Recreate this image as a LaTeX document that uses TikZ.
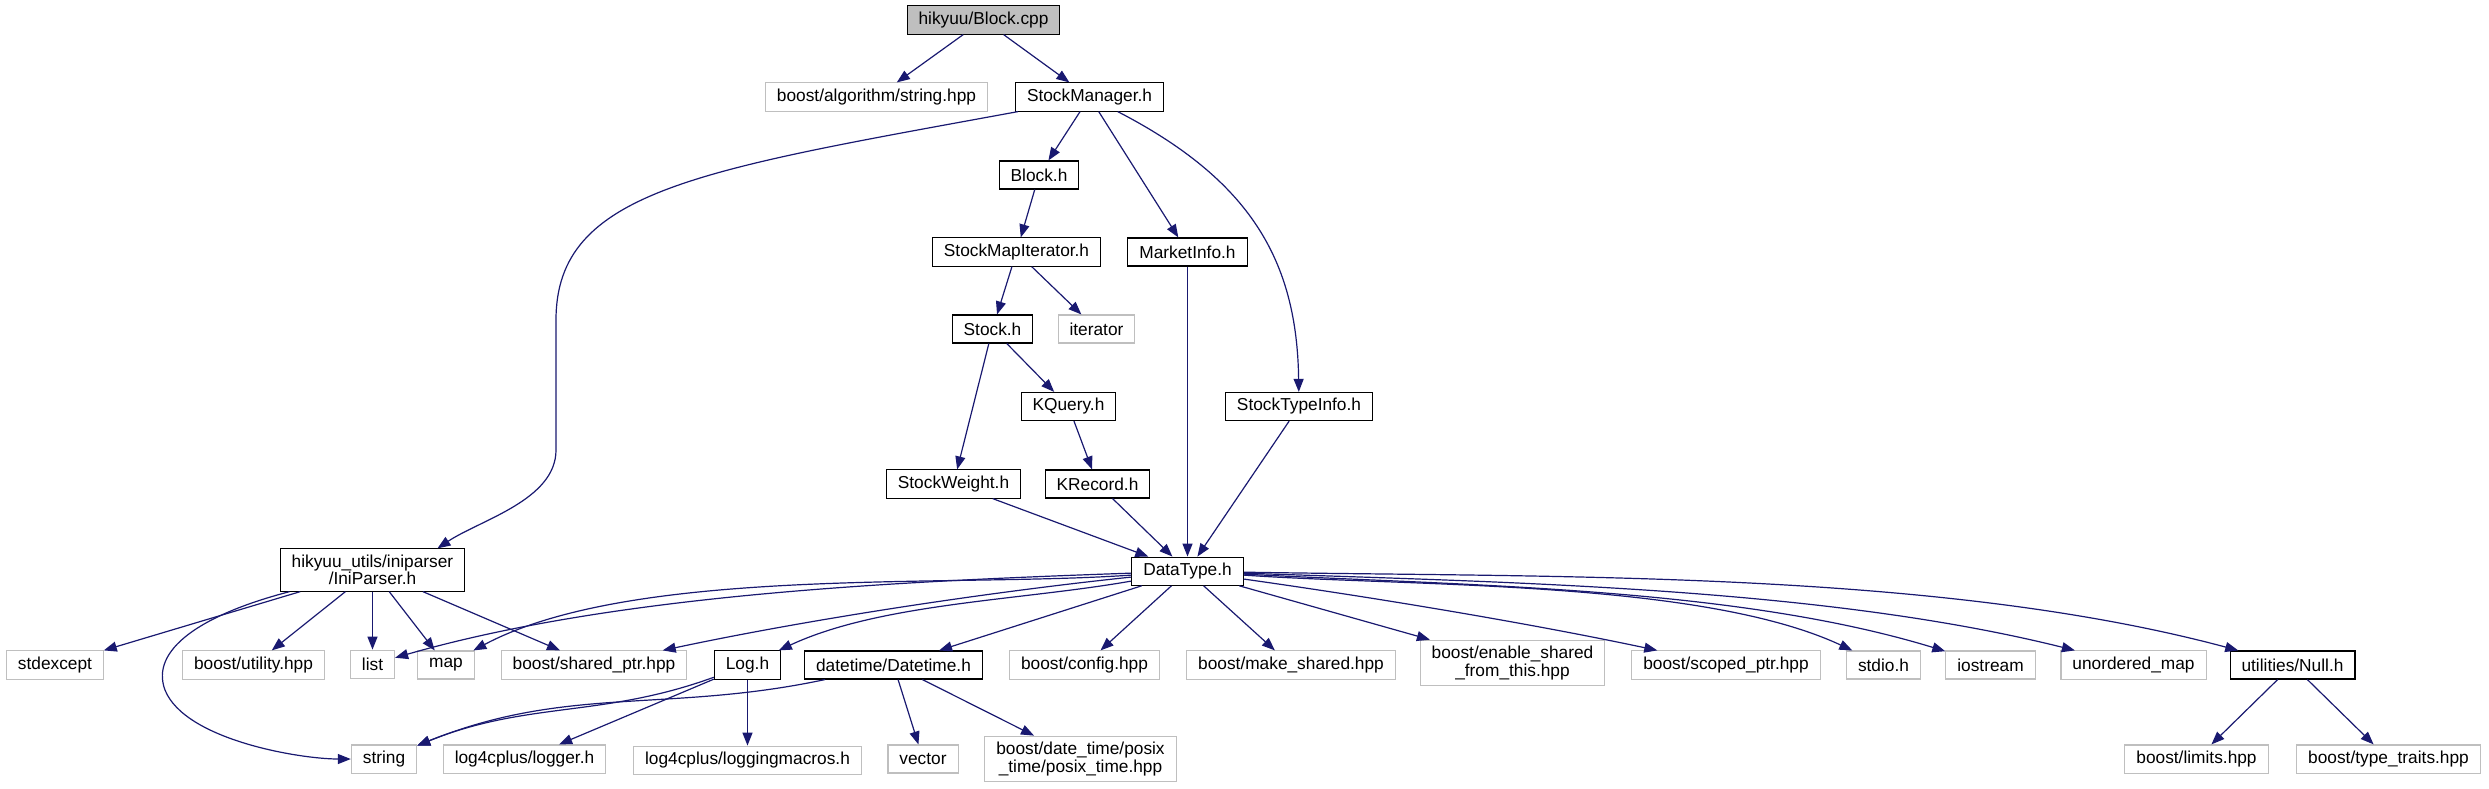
\documentclass[tikz,border=0pt]{standalone}
\usepackage{fontspec}
\setmainfont{Liberation Sans}
\usepackage{xcolor}
\usepackage{tikz}
\usetikzlibrary{arrows.meta,positioning}
\definecolor{edgeblue}{HTML}{191970}
\definecolor{extgray}{HTML}{BFBFBF}

\begin{document}
\begin{tikzpicture}[
  x=1pt,y=-1pt,
  hdr/.style={rectangle,draw=black,fill=white,line width=1.1pt,minimum height=28pt,inner xsep=11.5pt,inner ysep=6pt,align=center,font=\fontsize{17.3}{17.5}\selectfont},
  ext/.style={hdr,draw=extgray},
  src/.style={hdr,fill=extgray},
  dep/.style={-{Triangle[length=13pt,width=10pt]},line width=1.2pt,draw=edgeblue},
  node distance=24pt
]
\useasboundingbox (0,0) rectangle (2489,788);
\node[src] (blockcpp) at (983.5,20) {hikyuu/Block.cpp};
\node[ext] (algstr) at (876.5,97) {boost/algorithm/string.hpp};
\node[hdr] (stockmgr) at (1089.5,97) {StockManager.h};
\node[hdr] (blockh) at (1039,175) {Block.h};
\node[hdr] (smapiter) at (1016.5,252) {StockMapIterator.h};
\node[hdr] (marketinfo) at (1187.5,252) {MarketInfo.h};
\node[hdr] (stockh) at (992.5,329) {Stock.h};
\node[ext] (iterator) at (1096.5,329) {iterator};
\node[hdr] (kquery) at (1068.5,406.5) {KQuery.h};
\node[hdr] (stypeinfo) at (1299,406.5) {StockTypeInfo.h};
\node[hdr] (sweight) at (953.5,484) {StockWeight.h};
\node[hdr] (krecord) at (1097.5,484) {KRecord.h};
\node[hdr] (iniparser) at (372.5,570) {hikyuu\_utils/iniparser\\/IniParser.h};
\node[hdr,below=290pt of marketinfo] (datatype) {DataType.h};
\node[ext] (stdexcept) at (55,665) {stdexcept};
\node[ext] (butility) at (253.5,665) {boost/utility.hpp};
\node[ext,below=58pt of iniparser] (list) {list};
\node[ext] (map) at (446,665) {map};
\node[ext] (sharedptr) at (594,665) {boost/shared\_ptr.hpp};
\node[hdr] (logh) at (747.5,665) {Log.h};
\node[hdr] (datetime) at (893.5,665) {datetime/Datetime.h};
\node[ext] (bconfig) at (1084.5,665) {boost/config.hpp};
\node[ext] (makeshared) at (1291,665) {boost/make\_shared.hpp};
\node[ext] (enableshared) at (1512.5,663) {boost/enable\_shared\\\_from\_this.hpp};
\node[ext] (scopedptr) at (1726,665) {boost/scoped\_ptr.hpp};
\node[ext] (stdioh) at (1883.5,665) {stdio.h};
\node[ext] (iostream) at (1990.5,665) {iostream};
\node[ext] (unordered) at (2133.5,665) {unordered\_map};
\node[hdr] (nullh) at (2292.5,665) {utilities/Null.h};
\node[ext] (string) at (384,759) {string};
\node[ext] (logger) at (524.5,759) {log4cplus/logger.h};
\node[ext,below=66pt of logh] (logmacros) {log4cplus/loggingmacros.h};
\node[ext] (vector) at (923,759) {vector};
\node[ext] (posixtime) at (1080.5,759) {boost/date\_time/posix\\\_time/posix\_time.hpp};
\node[ext] (blimits) at (2196.5,759) {boost/limits.hpp};
\node[ext] (typetraits) at (2388.5,759) {boost/type\_traits.hpp};
\draw[dep] (blockcpp)--(algstr); \draw[dep] (blockcpp)--(stockmgr);
\draw[dep] (stockmgr)--(blockh); \draw[dep] (stockmgr)--(marketinfo);
\draw[dep] (stockmgr) .. controls (1250,180) and (1297,260) .. (stypeinfo);
\draw[dep] ([xshift=3pt]stockmgr.south west) .. controls (700,170) and (556,190) .. (556,320) -- (556,450) .. controls (556,500) and (480,520) .. ([xshift=65pt]iniparser.north);
\draw[dep] (blockh)--(smapiter);
\draw[dep] (smapiter)--(stockh); \draw[dep] (smapiter)--(iterator);
\draw[dep] (stockh)--(sweight); \draw[dep] (stockh)--(kquery);
\draw[dep] (kquery)--(krecord);
\draw[dep] (sweight)--(datatype); \draw[dep] (krecord)--(datatype);
\draw[dep] (marketinfo)--(datatype); \draw[dep] (stypeinfo)--(datatype);
\draw[dep] (iniparser)--(stdexcept); \draw[dep] (iniparser)--(butility);
\draw[dep] (iniparser)--(list); \draw[dep] (iniparser)--(map);
\draw[dep] (iniparser)--(sharedptr);
\draw[dep] (iniparser) .. controls (200,615) and (150,650) .. (165,690) .. controls (185,740) and (300,759) .. (string);
\draw[dep] (datatype) to[out=182,in=16,looseness=0.8] (list);
\draw[dep] (datatype) to[out=184,in=28,looseness=0.7] (map);
\draw[dep] (datatype) to[out=186,in=12,looseness=0.8] (sharedptr);
\draw[dep] (datatype) to[out=190,in=25,looseness=0.8] (logh);
\draw[dep] (datatype)--(datetime); \draw[dep] (datatype)--(bconfig);
\draw[dep] (datatype)--(makeshared); \draw[dep] (datatype)--(enableshared);
\draw[dep] (datatype) to[out=-8,in=168,looseness=0.8] (scopedptr);
\draw[dep] (datatype) to[out=-4,in=155,looseness=0.7] (stdioh);
\draw[dep] (datatype) to[out=-3,in=163,looseness=0.8] (iostream);
\draw[dep] (datatype) to[out=-2,in=166,looseness=0.8] (unordered);
\draw[dep] (datatype) to[out=-1,in=165,looseness=0.8] (nullh);
\draw[dep] (logh) to[out=200,in=22] (string);
\draw[dep] (datetime) to[out=192,in=22] (string);
\draw[dep] (logh)--(logger); \draw[dep] (logh)--(logmacros);
\draw[dep] (datetime)--(vector); \draw[dep] (datetime)--(posixtime);
\draw[dep] (nullh)--(blimits); \draw[dep] (nullh)--(typetraits);
\end{tikzpicture}
\end{document}
